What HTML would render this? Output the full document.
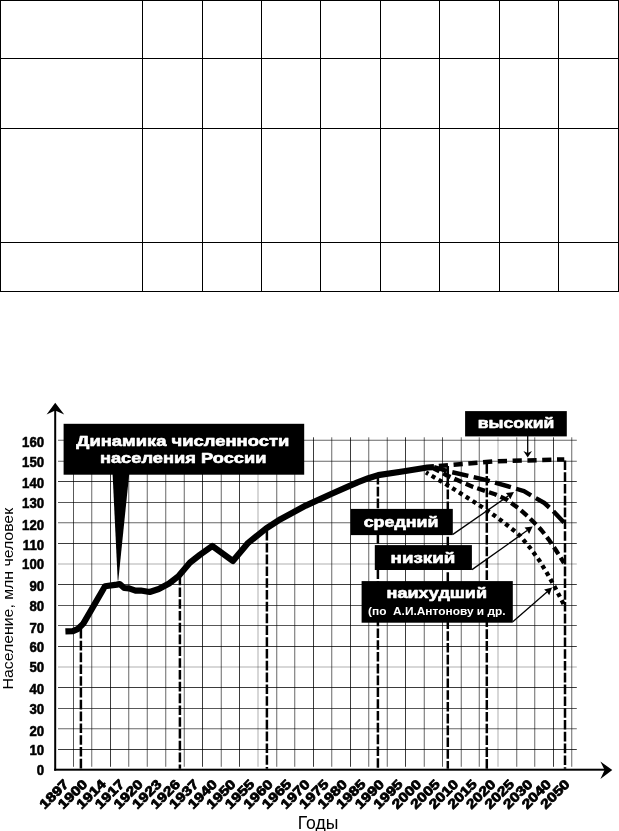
<!DOCTYPE html>
<html lang="ru"><head><meta charset="utf-8"><title>Динамика численности населения России</title>
<style>
html,body{margin:0;padding:0;background:#fff;}
body{width:619px;height:831px;overflow:hidden;position:relative;}
svg{position:absolute;left:0;top:0;display:block;}
text{font-family:"Liberation Sans",Arial,Helvetica,sans-serif;}
.b{font-weight:bold;}
.k{stroke:#000;stroke-width:0.55px;stroke-linejoin:round;}
.blk{font-family:"DejaVu Sans","Liberation Sans",sans-serif;font-weight:bold;fill:#fff;stroke:#fff;stroke-width:0.6px;stroke-linejoin:round;}
table{position:absolute;left:0;top:0;width:619px;height:292px;border-collapse:collapse;table-layout:fixed;margin:0;padding:0;}
td{border:1px solid #000;padding:0;margin:0;}
</style></head><body>
<svg width="619" height="831" viewBox="0 0 619 831">
<rect x="0" y="0" width="619" height="831" fill="#fff"/>
<g id="grid" stroke="#000" fill="none">
<line x1="73.50" y1="437.3" x2="73.50" y2="766.8" stroke-width="0.66"/>
<line x1="91.75" y1="437.3" x2="91.75" y2="766.8" stroke-width="0.6"/>
<line x1="110.50" y1="437.3" x2="110.50" y2="766.8" stroke-width="0.77"/>
<line x1="128.75" y1="437.3" x2="128.75" y2="766.8" stroke-width="0.6"/>
<line x1="147.25" y1="437.3" x2="147.25" y2="766.8" stroke-width="0.6"/>
<line x1="165.75" y1="437.3" x2="165.75" y2="766.8" stroke-width="0.6"/>
<line x1="184.25" y1="437.3" x2="184.25" y2="766.8" stroke-width="0.6"/>
<line x1="202.50" y1="437.3" x2="202.50" y2="766.8" stroke-width="0.77"/>
<line x1="221.25" y1="437.3" x2="221.25" y2="766.8" stroke-width="0.6"/>
<line x1="239.50" y1="437.3" x2="239.50" y2="766.8" stroke-width="0.77"/>
<line x1="258.00" y1="437.3" x2="258.00" y2="766.8" stroke-width="0.32"/>
<line x1="276.75" y1="437.3" x2="276.75" y2="766.8" stroke-width="0.6"/>
<line x1="294.75" y1="437.3" x2="294.75" y2="766.8" stroke-width="0.6"/>
<line x1="313.50" y1="437.3" x2="313.50" y2="766.8" stroke-width="0.77"/>
<line x1="331.75" y1="437.3" x2="331.75" y2="766.8" stroke-width="0.6"/>
<line x1="350.50" y1="437.3" x2="350.50" y2="766.8" stroke-width="0.77"/>
<line x1="368.75" y1="437.3" x2="368.75" y2="766.8" stroke-width="0.6"/>
<line x1="387.25" y1="437.3" x2="387.25" y2="766.8" stroke-width="0.6"/>
<line x1="405.50" y1="437.3" x2="405.50" y2="766.8" stroke-width="0.77"/>
<line x1="424.25" y1="437.3" x2="424.25" y2="766.8" stroke-width="0.6"/>
<line x1="442.50" y1="437.3" x2="442.50" y2="766.8" stroke-width="0.66"/>
<line x1="461.25" y1="437.3" x2="461.25" y2="766.8" stroke-width="0.6"/>
<line x1="479.25" y1="437.3" x2="479.25" y2="766.8" stroke-width="0.6"/>
<line x1="498.00" y1="437.3" x2="498.00" y2="766.8" stroke-width="0.32"/>
<line x1="516.75" y1="437.3" x2="516.75" y2="766.8" stroke-width="0.6"/>
<line x1="534.75" y1="437.3" x2="534.75" y2="766.8" stroke-width="0.6"/>
<line x1="553.50" y1="437.3" x2="553.50" y2="766.8" stroke-width="0.77"/>
<line x1="571.75" y1="437.3" x2="571.75" y2="766.8" stroke-width="0.6"/>
<line x1="58" y1="749.50" x2="576.8" y2="749.50" stroke-width="0.77"/>
<line x1="58" y1="728.75" x2="576.8" y2="728.75" stroke-width="0.6"/>
<line x1="58" y1="708.50" x2="576.8" y2="708.50" stroke-width="0.66"/>
<line x1="58" y1="687.50" x2="576.8" y2="687.50" stroke-width="0.77"/>
<line x1="58" y1="667.00" x2="576.8" y2="667.00" stroke-width="0.32"/>
<line x1="58" y1="646.50" x2="576.8" y2="646.50" stroke-width="0.77"/>
<line x1="58" y1="625.50" x2="576.8" y2="625.50" stroke-width="0.66"/>
<line x1="58" y1="605.50" x2="576.8" y2="605.50" stroke-width="0.66"/>
<line x1="58" y1="584.50" x2="576.8" y2="584.50" stroke-width="0.77"/>
<line x1="58" y1="564.00" x2="576.8" y2="564.00" stroke-width="0.32"/>
<line x1="58" y1="543.50" x2="576.8" y2="543.50" stroke-width="0.77"/>
<line x1="58" y1="522.75" x2="576.8" y2="522.75" stroke-width="0.6"/>
<line x1="58" y1="502.50" x2="576.8" y2="502.50" stroke-width="0.66"/>
<line x1="58" y1="481.50" x2="576.8" y2="481.50" stroke-width="0.77"/>
<line x1="58" y1="461.25" x2="576.8" y2="461.25" stroke-width="0.6"/>
<line x1="58" y1="440.25" x2="576.8" y2="440.25" stroke-width="0.6"/>
</g>
<g id="dashed" stroke="#000" stroke-width="2.5" stroke-dasharray="9.6 2.2" fill="none">
<line x1="80.9" y1="768.8" x2="80.9" y2="628.5" stroke-dashoffset="11.4"/>
<line x1="179.9" y1="768.8" x2="179.9" y2="577" stroke-dashoffset="5.2"/>
<line x1="266.9" y1="768.8" x2="266.9" y2="530.5" stroke-dashoffset="7.8"/>
<line x1="377.9" y1="768.8" x2="377.9" y2="477" stroke-dashoffset="10.8"/>
<line x1="447.8" y1="768.8" x2="447.8" y2="464" stroke-dashoffset="1.8"/>
<line x1="486.8" y1="768.8" x2="486.8" y2="462.4" stroke-dashoffset="11.7"/>
<line x1="565.0" y1="768.8" x2="565.0" y2="459.5" stroke-dashoffset="8.0"/>
</g>
<g id="axes" fill="#000" stroke="none">
<rect x="54.2" y="410" width="2" height="360.7"/>
<rect x="54.2" y="768.7" width="552" height="2"/>
<path d="M55.2 402.8 L64.2 414.6 L55.2 410.6 L46.6 414.6 Z"/>
<path d="M612.3 769.9 L600.4 761.5 L604.6 769.9 L600.4 778.9 Z"/>
</g>
<polyline id="main" points="65.4,631.4 72.9,631.1 78.1,628.8 83.3,623.6 105.0,586.3 116.9,584.6 119.7,584.0 124.2,588.0 129.0,588.3 135.5,590.6 140.7,590.5 149.7,592.0 158.8,589.0 169.1,583.5 178.2,576.4 189.8,562.8 200.0,554.8 212.3,546.0 232.9,561.0 248.2,542.8 265.9,528.7 280.5,519.2 305.8,505.6 331.7,493.7 357.5,482.3 368.4,478.2 378.2,475.1 404.0,471.2 427.3,467.5 434.0,467.1" fill="none" stroke="#000" stroke-width="6.2" stroke-linejoin="round" stroke-linecap="butt"/>
<polyline id="high" points="564.3,459.4 495.0,461.3 434.0,466.3" fill="none" stroke="#000" stroke-width="4.5" stroke-dasharray="9.2 5.6" stroke-dashoffset="1.9" stroke-linejoin="round"/>
<polyline id="med" points="434.0,467.0 447.7,471.2 487.5,480.4 512.4,487.6 524.0,491.2 532.8,496.5 544.4,503.0 553.2,511.0 564.0,522.6" fill="none" stroke="#000" stroke-width="4.4" stroke-dasharray="16.5 5.5" stroke-dashoffset="3" stroke-linejoin="round"/>
<polyline id="low" points="434.0,468.5 447.0,475.5 473.2,487.0 495.0,494.2 506.6,499.6 518.3,508.0 528.4,516.9 537.2,525.6 541.5,530.2 548.8,539.6 556.1,550.5 564.0,563.0" fill="none" stroke="#000" stroke-width="4.3" stroke-dasharray="8.2 4.2" stroke-dashoffset="2" stroke-linejoin="round"/>
<polyline id="worst" points="426.0,472.4 448.4,485.7 469.4,498.9 488.4,511.2 501.5,520.7 513.6,530.2 519.7,535.5 529.9,547.6 539.3,560.4 547.6,574.1 554.9,587.2 563.7,604.2" fill="none" stroke="#000" stroke-width="4.3" stroke-dasharray="4.1 3.9" stroke-dashoffset="1.4" stroke-linejoin="round"/>
<g id="boxes" fill="#000">
<rect x="63.6" y="423.8" width="240.6" height="50.9"/>
<path d="M112.6 474 L129.2 474 L118.3 580.5 L117.7 580.5 Z"/>
<rect x="465.1" y="411.1" width="101.7" height="25.3"/>
<rect x="350.8" y="508.9" width="102.0" height="26.2"/>
<rect x="374.8" y="545.1" width="97.1" height="24.9"/>
<rect x="361.6" y="581.1" width="151.2" height="41.6"/>
</g>
<g id="arrows">
<line x1="527.7" y1="436" x2="527.70" y2="452.92" stroke="#000" stroke-width="1.3"/>
<path d="M527.70 457.40 L523.40 451.00 L527.70 452.92 L532.00 451.00 Z" fill="#000"/>
<line x1="452.9" y1="534.4" x2="508.38" y2="495.90" stroke="#000" stroke-width="1.3"/>
<path d="M514.00 492.00 L510.31 499.31 L508.38 495.90 L505.86 492.90 Z" fill="#000"/>
<line x1="472.0" y1="569.6" x2="527.12" y2="530.55" stroke="#000" stroke-width="1.3"/>
<path d="M532.70 526.60 L529.08 533.94 L527.12 530.55 L524.57 527.58 Z" fill="#000"/>
<line x1="512.8" y1="621.8" x2="546.94" y2="592.09" stroke="#000" stroke-width="1.3"/>
<path d="M552.10 587.60 L549.23 595.27 L546.94 592.09 L544.11 589.38 Z" fill="#000"/>
</g>
<g id="ylabels" class="b k" font-size="13.9" text-anchor="end" fill="#000">
<text transform="translate(44.1 774.9) scale(0.95 1)" x="0" y="0">0</text>
<text transform="translate(44.1 755.4) scale(0.95 1)" x="0" y="0">10</text>
<text transform="translate(44.1 735.5) scale(0.95 1)" x="0" y="0">20</text>
<text transform="translate(44.1 713.9) scale(0.95 1)" x="0" y="0">30</text>
<text transform="translate(44.1 693.6) scale(0.95 1)" x="0" y="0">40</text>
<text transform="translate(44.1 672.2) scale(0.95 1)" x="0" y="0">50</text>
<text transform="translate(44.1 652.4) scale(0.95 1)" x="0" y="0">60</text>
<text transform="translate(44.1 632.5) scale(0.95 1)" x="0" y="0">70</text>
<text transform="translate(44.1 610.9) scale(0.95 1)" x="0" y="0">80</text>
<text transform="translate(44.1 590.8) scale(0.95 1)" x="0" y="0">90</text>
<text transform="translate(44.1 569.4) scale(0.95 1)" x="0" y="0">100</text>
<text transform="translate(44.1 549.6) scale(0.95 1)" x="0" y="0">110</text>
<text transform="translate(44.1 529.7) scale(0.95 1)" x="0" y="0">120</text>
<text transform="translate(44.1 508.1) scale(0.95 1)" x="0" y="0">130</text>
<text transform="translate(44.1 488.3) scale(0.95 1)" x="0" y="0">140</text>
<text transform="translate(44.1 466.5) scale(0.95 1)" x="0" y="0">150</text>
<text transform="translate(44.1 446.7) scale(0.95 1)" x="0" y="0">160</text>
</g>
<g id="xlabels" class="b k" style="stroke-width:0.8px" font-size="13.2" text-anchor="end" fill="#000">
<text transform="translate(69.60 784.9) rotate(-45) scale(1.2 1)" x="0" y="0">1897</text>
<text transform="translate(88.16 784.9) rotate(-45) scale(1.2 1)" x="0" y="0">1900</text>
<text transform="translate(106.71 784.9) rotate(-45) scale(1.2 1)" x="0" y="0">1914</text>
<text transform="translate(125.26 784.9) rotate(-45) scale(1.2 1)" x="0" y="0">1917</text>
<text transform="translate(143.82 784.9) rotate(-45) scale(1.2 1)" x="0" y="0">1920</text>
<text transform="translate(162.38 784.9) rotate(-45) scale(1.2 1)" x="0" y="0">1923</text>
<text transform="translate(180.93 784.9) rotate(-45) scale(1.2 1)" x="0" y="0">1926</text>
<text transform="translate(199.48 784.9) rotate(-45) scale(1.2 1)" x="0" y="0">1937</text>
<text transform="translate(218.04 784.9) rotate(-45) scale(1.2 1)" x="0" y="0">1940</text>
<text transform="translate(236.59 784.9) rotate(-45) scale(1.2 1)" x="0" y="0">1950</text>
<text transform="translate(255.15 784.9) rotate(-45) scale(1.2 1)" x="0" y="0">1955</text>
<text transform="translate(273.70 784.9) rotate(-45) scale(1.2 1)" x="0" y="0">1960</text>
<text transform="translate(292.26 784.9) rotate(-45) scale(1.2 1)" x="0" y="0">1965</text>
<text transform="translate(310.81 784.9) rotate(-45) scale(1.2 1)" x="0" y="0">1970</text>
<text transform="translate(329.37 784.9) rotate(-45) scale(1.2 1)" x="0" y="0">1975</text>
<text transform="translate(347.92 784.9) rotate(-45) scale(1.2 1)" x="0" y="0">1980</text>
<text transform="translate(366.48 784.9) rotate(-45) scale(1.2 1)" x="0" y="0">1985</text>
<text transform="translate(385.03 784.9) rotate(-45) scale(1.2 1)" x="0" y="0">1990</text>
<text transform="translate(403.59 784.9) rotate(-45) scale(1.2 1)" x="0" y="0">1995</text>
<text transform="translate(422.14 784.9) rotate(-45) scale(1.2 1)" x="0" y="0">2000</text>
<text transform="translate(440.70 784.9) rotate(-45) scale(1.2 1)" x="0" y="0">2005</text>
<text transform="translate(459.25 784.9) rotate(-45) scale(1.2 1)" x="0" y="0">2010</text>
<text transform="translate(477.81 784.9) rotate(-45) scale(1.2 1)" x="0" y="0">2015</text>
<text transform="translate(496.37 784.9) rotate(-45) scale(1.2 1)" x="0" y="0">2020</text>
<text transform="translate(514.92 784.9) rotate(-45) scale(1.2 1)" x="0" y="0">2025</text>
<text transform="translate(533.48 784.9) rotate(-45) scale(1.2 1)" x="0" y="0">2030</text>
<text transform="translate(552.03 784.9) rotate(-45) scale(1.2 1)" x="0" y="0">2040</text>
<text transform="translate(570.59 784.9) rotate(-45) scale(1.2 1)" x="0" y="0">2050</text>
</g>
<text id="ytitle" font-size="15.3" fill="#000" transform="translate(13.1 689.4) rotate(-90)" textLength="181.5" lengthAdjust="spacingAndGlyphs">Население, млн человек</text>
<text id="xtitle" font-size="17.8" fill="#000" x="297.7" y="829.0" textLength="40.7" lengthAdjust="spacingAndGlyphs">Годы</text>
<g id="boxtext" class="blk" font-size="14.6">
<text x="76.3" y="446.4" textLength="213" lengthAdjust="spacingAndGlyphs">Динамика численности</text>
<text x="99.9" y="463.0" textLength="166.6" lengthAdjust="spacingAndGlyphs">населения России</text>
<text x="477.8" y="428.0" textLength="76.6" lengthAdjust="spacingAndGlyphs">высокий</text>
<text x="363.7" y="526.7" textLength="74.8" lengthAdjust="spacingAndGlyphs">средний</text>
<text x="390.6" y="562.5" textLength="64.7" lengthAdjust="spacingAndGlyphs">низкий</text>
<text x="386.6" y="598.3" textLength="100.4" lengthAdjust="spacingAndGlyphs">наихудший</text>
</g>
<text id="sub" class="b" font-size="11" fill="#fff" x="368" y="615.2" textLength="137.6" lengthAdjust="spacingAndGlyphs" xml:space="preserve">(по  А.И.Антонову и др.</text>
</svg>
<table><colgroup><col style="width:142px"><col style="width:60px"><col style="width:59px"><col style="width:59px"><col style="width:60px"><col style="width:59px"><col style="width:60px"><col style="width:59px"><col style="width:60px"></colgroup><tbody>
<tr style="height:58px"><td></td><td></td><td></td><td></td><td></td><td></td><td></td><td></td><td></td></tr>
<tr style="height:70px"><td></td><td></td><td></td><td></td><td></td><td></td><td></td><td></td><td></td></tr>
<tr style="height:114px"><td></td><td></td><td></td><td></td><td></td><td></td><td></td><td></td><td></td></tr>
<tr style="height:49px"><td></td><td></td><td></td><td></td><td></td><td></td><td></td><td></td><td></td></tr>
</tbody></table>
</body></html>
